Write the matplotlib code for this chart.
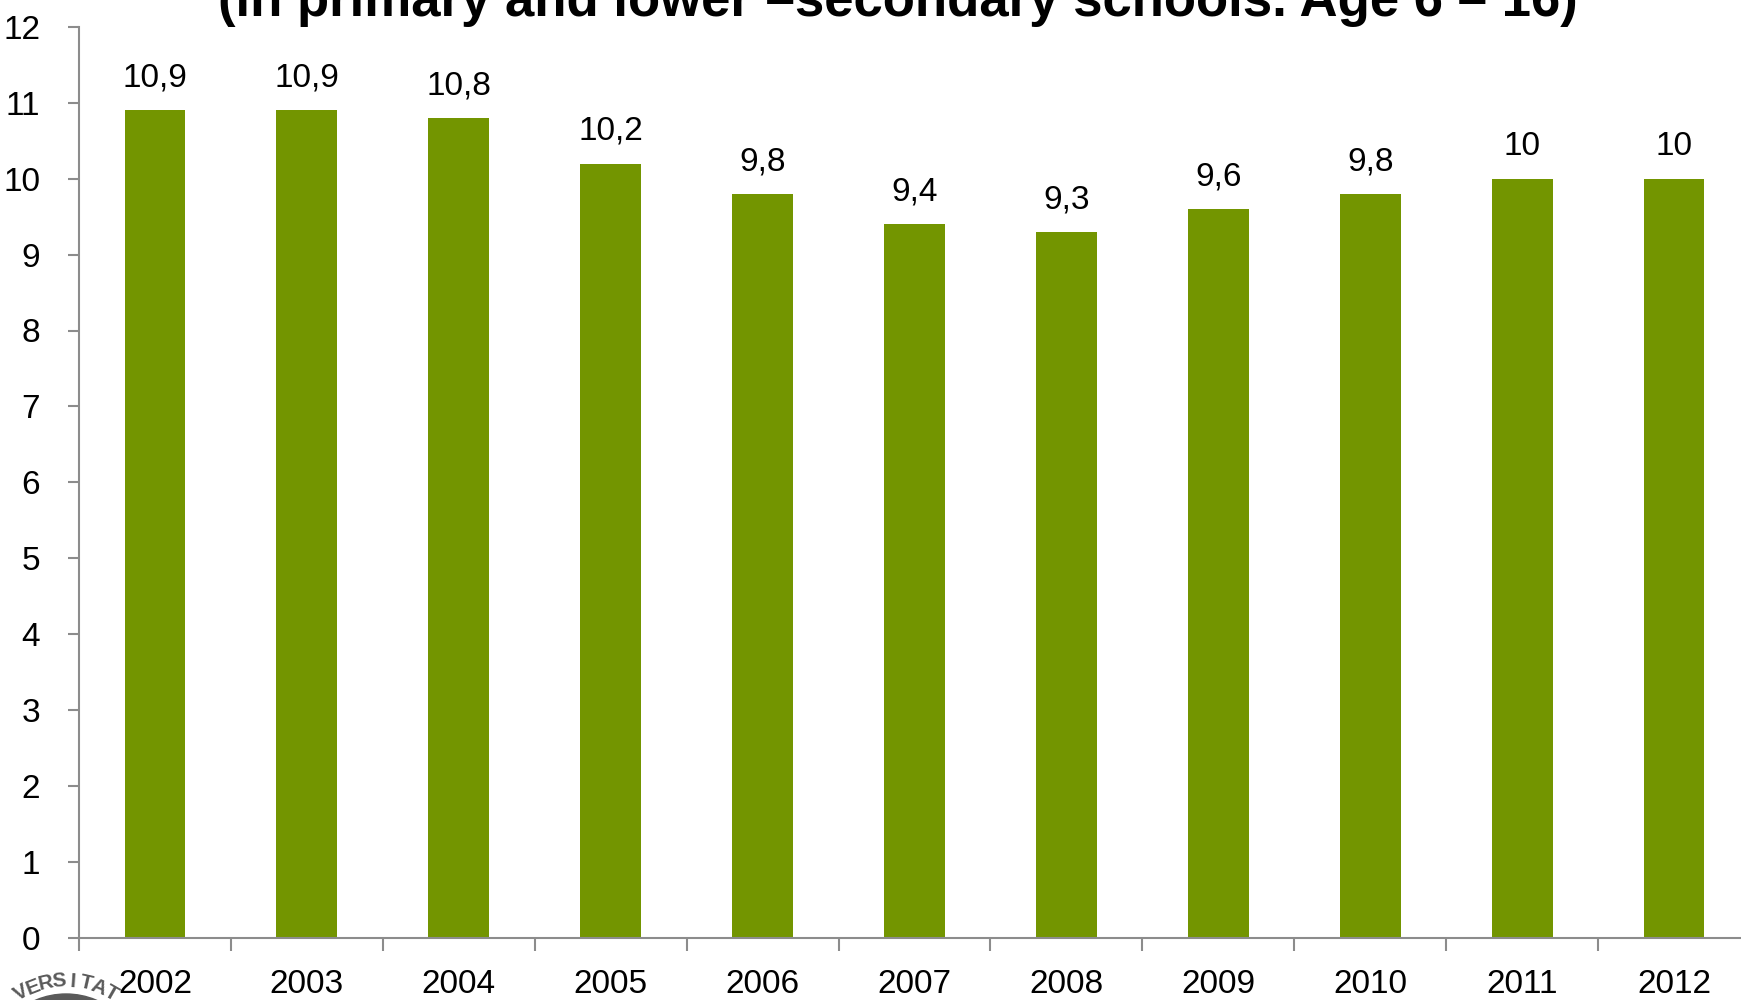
import numpy as np
import matplotlib
matplotlib.use("Agg")
import matplotlib.pyplot as plt
from matplotlib import font_manager

years = ["2002", "2003", "2004", "2005", "2006", "2007", "2008", "2009", "2010", "2011", "2012"]
values = [10.9, 10.9, 10.8, 10.2, 9.8, 9.4, 9.3, 9.6, 9.8, 10.0, 10.0]
value_labels = ["10,9", "10,9", "10,8", "10,2", "9,8", "9,4", "9,3", "9,6", "9,8", "10", "10"]
title = "(in primary and lower \u2013secondary schools. Age 6 \u2013 16)"
seal_text = "VERSITAT"

names = {f.name for f in font_manager.fontManager.ttflist}
narrow = "Liberation Sans Narrow" if "Liberation Sans Narrow" in names else "Liberation Sans"
plt.rcParams["font.family"] = [narrow, "DejaVu Sans"]

bar_color = "#739500"
axis_color = "#8c8c8c"
seal_color = "#5a5a5a"

fig = plt.figure(figsize=(17.41, 10.0), dpi=100)
ax = fig.add_axes([79 / 1741, 62.5 / 1000, 1671 / 1741, 910.5 / 1000])

x = np.arange(len(years))
ax.bar(x, values, width=0.40, color=bar_color, zorder=2)
for xi, v, lab in zip(x, values, value_labels):
    ax.annotate(lab, (xi, v), xytext=(0, 12), textcoords="offset points",
                ha="center", va="bottom", fontsize=24, color="black")

ax.set_xlim(-0.5, len(years) - 0.5)
ax.set_ylim(0, 12)
ax.set_yticks(range(0, 13))
ax.set_xticks(x)
ax.set_xticklabels(years)
ax.set_xticks(np.arange(-0.5, len(years), 1.0), minor=True)
ax.tick_params(axis="x", which="major", length=0, pad=23, labelsize=24)
ax.tick_params(axis="x", which="minor", length=9, width=1.5, color=axis_color, direction="out")
ax.tick_params(axis="y", length=8, width=1.5, color=axis_color, pad=20, labelsize=24)

for s in ["top", "right"]:
    ax.spines[s].set_visible(False)
for s in ["left", "bottom"]:
    ax.spines[s].set_color(axis_color)
    ax.spines[s].set_linewidth(1.5)

fig.text(0.5 * (215 + 1580) / 1741, 1 - 16 / 1000, title, ha="center", va="baseline",
         fontsize=38, fontweight="bold", color="black")

# University seal in the lower-left corner, mostly below the page edge
seal = fig.add_axes([0, 0, 1, 1], zorder=-1)
seal.set_xlim(0, 1741)
seal.set_ylim(1000, 0)
seal.axis("off")
cx, cy = 66, 1072
seal.add_patch(plt.Circle((cx, cy), 78, color=seal_color, zorder=1))
r = 91
n = len(seal_text)
for k, ch in enumerate(seal_text):
    a = -90 + (k - (n - 1) / 2) * 8.5
    t = np.deg2rad(a)
    px, py = cx + r * np.cos(t), cy + r * np.sin(t)
    seal.text(px, py, ch, ha="center", va="center", fontsize=15, fontweight="bold",
              color=seal_color, rotation=-(a + 90), rotation_mode="anchor")

fig.savefig("out.png", dpi=100)
